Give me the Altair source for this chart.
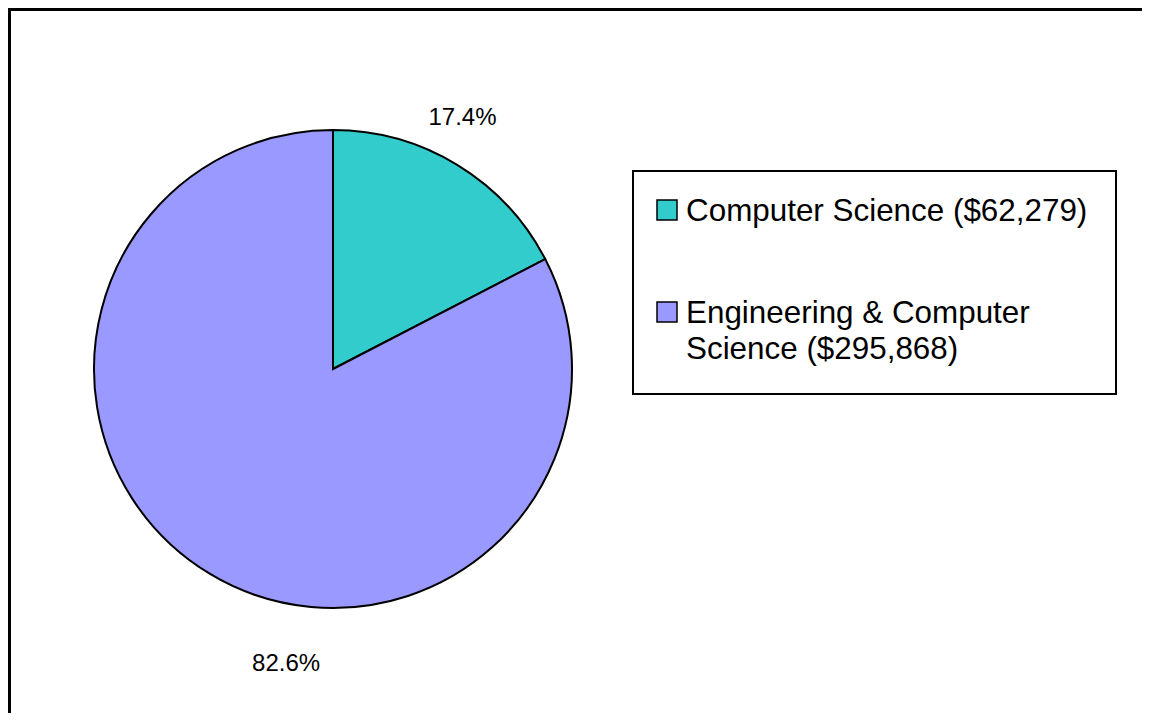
import altair as alt
import pandas as pd

categories = ["Computer Science", "Engineering & Computer Science"]
values = [62279, 295868]
legend_labels = ["Computer Science ($62,279)", "Engineering & Computer\nScience ($295,868)"]
order = [0, 1]
colors = ["#33CCCC", "#9999FF"]

df = pd.DataFrame({"category": categories, "value": values,
                   "legend_label": legend_labels, "idx": order})

W, H = 1134, 705
CX, CY = 325, 361
FONT = "Liberation Sans"

base = alt.Chart(df).transform_joinaggregate(total="sum(value)").transform_calculate(
    pct="format(datum.value / datum.total, '.1%')",
    labA="datum.category == 'Computer Science' ? datum.pct : ''",
    labB="datum.category == 'Computer Science' ? '' : datum.pct",
)

color = alt.Color("category:N", scale=alt.Scale(domain=categories, range=colors), legend=None)
theta = alt.Theta("value:Q", stack=True)
ordr = alt.Order("idx:Q")

pie = base.mark_arc(radius=239, stroke="black", strokeWidth=2).encode(
    theta=theta, color=color, order=ordr, x=alt.value(CX), y=alt.value(CY)
)

labA = base.mark_text(radius=280, dx=-16, dy=-12, font=FONT, fontSize=24,
                      align="center", baseline="middle", color="black").encode(
    theta=theta, order=ordr, text="labA:N", x=alt.value(CX), y=alt.value(CY)
)
labB = base.mark_text(radius=300, dx=109, dy=39, font=FONT, fontSize=24,
                      align="center", baseline="middle", color="black").encode(
    theta=theta, order=ordr, text="labB:N", x=alt.value(CX), y=alt.value(CY)
)

frame_left = alt.Chart(df).mark_rule(color="black", strokeWidth=3).encode(
    x=alt.value(1.5), y=alt.value(0), y2=alt.value(H)
)
frame_top = alt.Chart(df).mark_rule(color="black", strokeWidth=3).encode(
    x=alt.value(0), x2=alt.value(W), y=alt.value(1.5)
)

legend_box = alt.Chart(df).mark_rect(fill="white", stroke="black", strokeWidth=2).encode(
    x=alt.value(625), x2=alt.value(1108), y=alt.value(163), y2=alt.value(386)
)

ly = alt.Y("category:N", scale=alt.Scale(domain=categories, range=[202, 304], padding=0), axis=None)

legend_sym = alt.Chart(df).mark_point(shape="square", filled=True, size=400,
                                      stroke="black", strokeWidth=1.5, opacity=1).encode(
    x=alt.value(659), y=ly, fill=alt.Fill("category:N", scale=alt.Scale(domain=categories, range=colors), legend=None)
)
legend_txt = alt.Chart(df).mark_text(align="left", baseline="alphabetic", dy=11,
                                     font=FONT, fontSize=31.4, lineBreak="\n",
                                     lineHeight=36, color="black").encode(
    x=alt.value(678), y=ly, text="legend_label:N"
)

chart = alt.layer(frame_left, frame_top, pie, labA, labB, legend_box, legend_sym, legend_txt).properties(
    width=W, height=H, padding=0, autosize=alt.AutoSizeParams(type="none"), background="white"
).configure_view(stroke=None)

chart.save("out.html", embed_options={"renderer": "svg", "actions": False})
